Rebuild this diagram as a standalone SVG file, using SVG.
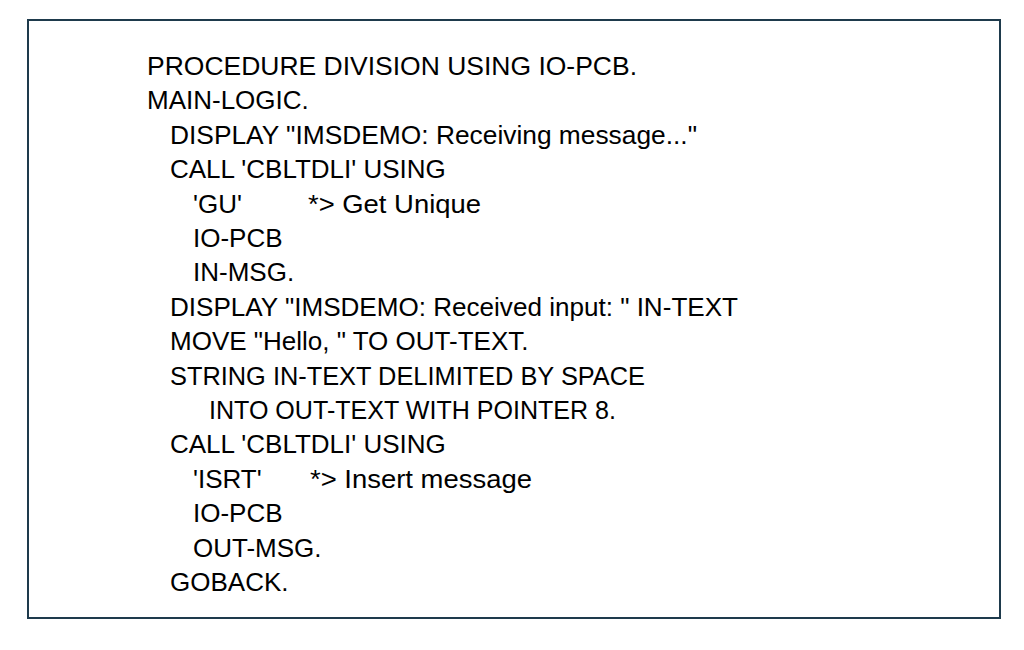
<svg xmlns="http://www.w3.org/2000/svg" width="1024" height="650" viewBox="0 0 1024 650">
<style>
.t{font-family:"Liberation Sans",Arial,sans-serif;font-size:26px;fill:#000}
</style>
<rect width="1024" height="650" fill="#fff"/>
<g id="frame"><rect x="28" y="20" width="972" height="598" fill="#fff" stroke="#1e3a4c" stroke-width="2"/></g>
<g id="code" class="t">
<text x="147" y="75" textLength="490" lengthAdjust="spacingAndGlyphs">PROCEDURE DIVISION USING IO-PCB.</text>
<text x="147" y="109.4">MAIN-LOGIC.</text>
<text x="170" y="143.8" textLength="527" lengthAdjust="spacingAndGlyphs">DISPLAY "IMSDEMO: Receiving message..."</text>
<text x="170" y="178.2">CALL 'CBLTDLI' USING</text>
<text x="193" y="212.6">'GU'</text>
<text x="308" y="212.6" textLength="173" lengthAdjust="spacingAndGlyphs">*&gt; Get Unique</text>
<text x="193" y="247">IO-PCB</text>
<text x="193" y="281.4">IN-MSG.</text>
<text x="170" y="315.8" textLength="568" lengthAdjust="spacingAndGlyphs">DISPLAY "IMSDEMO: Received input: " IN-TEXT</text>
<text x="170" y="350.2">MOVE "Hello, " TO OUT-TEXT.</text>
<text x="170" y="384.6" textLength="475" lengthAdjust="spacingAndGlyphs">STRING IN-TEXT DELIMITED BY SPACE</text>
<text x="209" y="419" textLength="407" lengthAdjust="spacingAndGlyphs">INTO OUT-TEXT WITH POINTER 8.</text>
<text x="170" y="453.4">CALL 'CBLTDLI' USING</text>
<text x="193" y="487.8">'ISRT'</text>
<text x="310" y="487.8" textLength="222" lengthAdjust="spacingAndGlyphs">*&gt; Insert message</text>
<text x="193" y="522.2">IO-PCB</text>
<text x="193" y="556.6">OUT-MSG.</text>
<text x="170" y="591">GOBACK.</text>
</g>
</svg>
